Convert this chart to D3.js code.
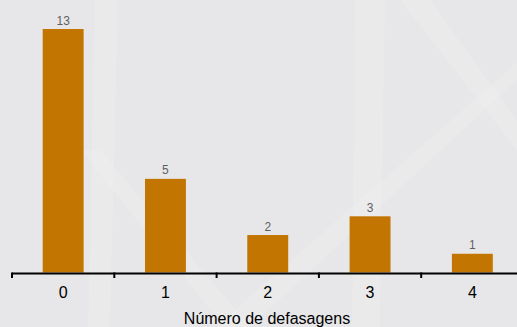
<!DOCTYPE html>
<html>
<head>
<meta charset="utf-8">
<script src="https://cdn.jsdelivr.net/npm/d3@7"></script>
<style>
  html, body { margin: 0; padding: 0; background: #e7e7e9; }
  svg { display: block; }
</style>
</head>
<body>
<div id="wrapper"></div>
<script>
// data
const lags = ["0", "1", "2", "3", "4"]
const counts = [13, 5, 2, 3, 1]
const xTitle = "Número de defasagens"

const width = 517
const height = 327
const font = "'Liberation Sans', Arial, sans-serif"

const svg = d3.select("#wrapper")
    .append("svg")
    .attr("width", width)
    .attr("height", height)

// background with soft light streaks
svg.append("rect")
    .attr("width", width)
    .attr("height", height)
    .attr("fill", "#e7e7e9")

const streaks = [
    [[95, 0], [118, 0], [110, 327], [88, 327]],
    [[355, 0], [385, 0], [380, 327], [352, 327]],
    [[517, 62], [517, 80], [250, 327], [215, 327]],
    [[400, 0], [430, 0], [517, 120], [517, 150]],
    [[80, 150], [100, 150], [250, 327], [225, 327]],
]
svg.append("g")
    .selectAll("path")
    .data(streaks)
    .join("path")
    .attr("d", d => "M" + d.join("L") + "Z")
    .attr("fill", "#ffffff")
    .attr("opacity", 0.12)

// scales
const baseY = 272.5
const xScale = d3.scaleBand()
    .domain(lags)
    .range([12, 523.5])
    .paddingInner(0.6)
    .paddingOuter(0.3)

const yScale = d3.scaleLinear()
    .domain([0, 13])
    .range([baseY, 29])

const bars = svg.append("g")
bars.selectAll("rect")
    .data(counts)
    .join("rect")
    .attr("x", (d, i) => xScale(lags[i]))
    .attr("y", d => yScale(d))
    .attr("width", xScale.bandwidth())
    .attr("height", d => baseY - yScale(d))
    .attr("fill", "#c27500")

bars.selectAll("text")
    .data(counts)
    .join("text")
    .attr("x", (d, i) => xScale(lags[i]) + xScale.bandwidth() / 2)
    .attr("y", d => yScale(d) - 4.5)
    .attr("text-anchor", "middle")
    .attr("font-family", font)
    .attr("font-size", "12px")
    .attr("fill", "#5f5f5f")
    .text(d => d)

// axis: labels from d3 axis, ticks at band boundaries
const xAxis = svg.append("g")
    .attr("transform", `translate(0,${baseY})`)
    .call(d3.axisBottom(xScale).tickSize(0))
xAxis.select(".domain").remove()
xAxis.selectAll("text")
    .attr("y", 25.5)
    .attr("dy", null)
    .attr("font-family", font)
    .attr("font-size", "16px")
    .attr("fill", "#000")

const step = xScale.step()
const bounds = d3.range(lags.length + 1).map(i => xScale.range()[0] + i * step)
svg.append("line")
    .attr("x1", bounds[0])
    .attr("x2", width)
    .attr("y1", baseY + 1)
    .attr("y2", baseY + 1)
    .attr("stroke", "#000")
    .attr("stroke-width", 2)
svg.append("g")
    .selectAll("line")
    .data(bounds)
    .join("line")
    .attr("x1", d => d)
    .attr("x2", d => d)
    .attr("y1", baseY)
    .attr("y2", baseY + 5.5)
    .attr("stroke", "#000")
    .attr("stroke-width", 2)

svg.append("text")
    .attr("x", 267)
    .attr("y", 324)
    .attr("text-anchor", "middle")
    .attr("font-family", font)
    .attr("font-size", "16px")
    .attr("fill", "#000")
    .text(xTitle)
</script>
</body>
</html>
